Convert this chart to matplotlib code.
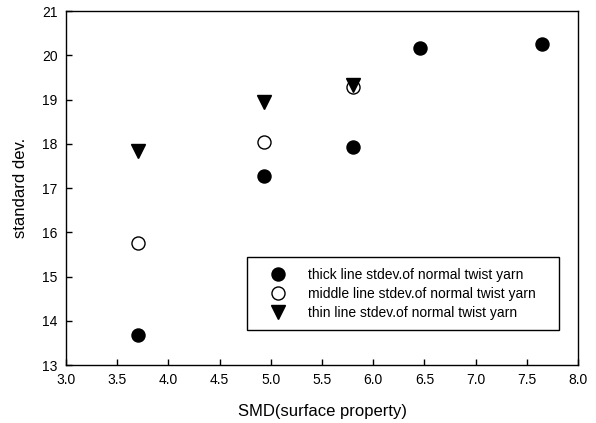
import matplotlib
matplotlib.use("Agg")
import matplotlib.pyplot as plt
from matplotlib.patches import Rectangle

plt.rcParams['font.family'] = ['Liberation Sans', 'DejaVu Sans']

# Data
thick_x = [3.70, 4.93, 5.80, 6.46, 7.65]
thick_y = [13.67, 17.26, 17.92, 20.16, 20.26]
middle_x = [3.70, 4.93, 5.80]
middle_y = [15.75, 18.03, 19.29]
thin_x = [3.70, 4.93, 5.80]
thin_y = [17.83, 18.94, 19.33]

labels = ["thick line stdev.of normal twist yarn",
          "middle line stdev.of normal twist yarn",
          "thin line stdev.of normal twist yarn"]
xticks = [3.0, 3.5, 4.0, 4.5, 5.0, 5.5, 6.0, 6.5, 7.0, 7.5, 8.0]
yticks = [13, 14, 15, 16, 17, 18, 19, 20, 21]

fig = plt.figure(figsize=(5.96, 4.23), dpi=100)
ax = fig.add_axes([66/596, 1-365/423, 512/596, 354/423])

ax.plot(thick_x, thick_y, 'o', color='black', markersize=9.4, linestyle='none', label=labels[0])
ax.plot(middle_x, middle_y, 'o', markerfacecolor='white', markeredgecolor='black',
        markeredgewidth=1.0, markersize=9.4, linestyle='none', label=labels[1])
ax.plot(thin_x, thin_y, 'v', color='black', markersize=9.5, linestyle='none', label=labels[2])

ax.set_xlim(3.0, 8.0)
ax.set_ylim(13, 21)
ax.set_xticks(xticks)
ax.set_xticklabels([f"{v:.1f}" for v in xticks])
ax.set_yticks(yticks)
ax.set_yticklabels([str(v) for v in yticks])
ax.tick_params(direction='in', length=4, width=1, labelsize=10, top=False, right=False)
ax.tick_params(axis='x', pad=6)
ax.tick_params(axis='y', pad=6)
for s in ax.spines.values():
    s.set_linewidth(1.0)

ax.set_xlabel("SMD(surface property)", fontsize=12, labelpad=12)
ax.set_ylabel("standard dev.", fontsize=12, labelpad=10)

# legend frame drawn as rectangle in axes coordinates
bx0, by0 = (247-66)/512, (365-330)/354
bw, bh = (559-247)/512, (330-257)/354
ax.add_patch(Rectangle((bx0, by0), bw, bh, transform=ax.transAxes,
                       facecolor='white', edgecolor='black', linewidth=1.0, zorder=4))
leg = ax.legend(loc='center left', bbox_to_anchor=(bx0, by0 + bh/2), fontsize=10,
                frameon=False, borderpad=1.0, handlelength=2.46, handletextpad=0.93,
                labelspacing=0.36, borderaxespad=0)
leg.set_zorder(5)

fig.savefig("out.png", dpi=100)
